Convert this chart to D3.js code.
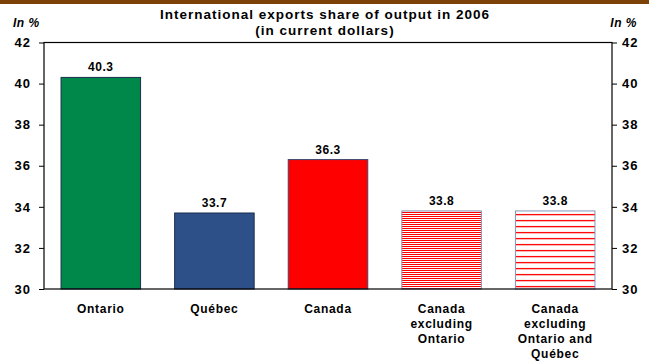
<!DOCTYPE html>
<html>
<head>
<meta charset="utf-8">
<script src="https://cdn.jsdelivr.net/npm/d3@7"></script>
<style>
  html, body { margin: 0; padding: 0; background: #fff; }
  svg { display: block; font-family: "Liberation Sans", Arial, sans-serif; }
</style>
</head>
<body>
<svg id="chart" width="649" height="363"></svg>
<script>
// Chart content
const categories = ["Ontario", "Québec", "Canada", "Canada excluding Ontario", "Canada excluding Ontario and Québec"];
const categoryLines = [["Ontario"], ["Québec"], ["Canada"], ["Canada", "excluding", "Ontario"], ["Canada", "excluding", "Ontario and", "Québec"]];
const values = [40.3, 33.7, 36.3, 33.8, 33.8];
const valueLabels = ["40.3", "33.7", "36.3", "33.8", "33.8"];
const yTicks = [30, 32, 34, 36, 38, 40, 42];
const titleLines = ["International exports share of output in 2006", "(in current dollars)"];
const unitLabel = "In %";

const width = 649, height = 363;
const margin = { left: 44, right: 37, top: 42.5, bottom: 74 };
const svg = d3.select("#chart");

// Fills per bar: solid colours and two horizontal hatch patterns
const fills = ["#00884b", "#2e5088", "#ff0000", "url(#hatchDense)", "url(#hatchWide)"];
const strokes = ["#1c2e4e", "#1c2e4e", "#3a4670", "#8494b4", "#8494b4"];

const x = d3.scaleBand()
  .domain(categories)
  .range([margin.left, width - margin.right])
  .paddingInner(0.3)
  .paddingOuter(0.15);

const y = d3.scaleLinear()
  .domain([30, 42])
  .range([height - margin.bottom, margin.top]);

// Hatch patterns
const defs = svg.append("defs");
const dense = defs.append("pattern")
  .attr("id", "hatchDense").attr("patternUnits", "userSpaceOnUse")
  .attr("width", 8).attr("height", 2);
dense.append("rect").attr("width", 8).attr("height", 2).attr("fill", "#fff");
dense.append("rect").attr("y", 0).attr("width", 8).attr("height", 1).attr("fill", "#ff0000");

const wide = defs.append("pattern")
  .attr("id", "hatchWide").attr("patternUnits", "userSpaceOnUse")
  .attr("width", 8).attr("height", 6)
  .attr("y", y(values[4]) + 3);
wide.append("rect").attr("width", 8).attr("height", 6).attr("fill", "#fff");
wide.append("rect").attr("y", 0).attr("width", 8).attr("height", 1.3).attr("fill", "#ff0000");

// Top brown band
svg.append("rect").attr("x", 0).attr("y", 0).attr("width", width).attr("height", 4).attr("fill", "#7d4208");

// Title
svg.append("text")
  .attr("x", 325).attr("y", 19)
  .attr("text-anchor", "middle")
  .style("font-size", "13.5px").style("font-weight", "bold").style("letter-spacing", "1px")
  .attr("fill", "#000")
  .selectAll("tspan").data(titleLines).join("tspan")
  .attr("x", 325).attr("dy", (d, i) => i === 0 ? 0 : 16)
  .text(d => d);

// Unit labels
svg.append("text").attr("x", 13).attr("y", 27)
  .style("font-size", "12px").style("font-weight", "bold").style("font-style", "italic")
  .style("letter-spacing", "0.5px")
  .text(unitLabel);
svg.append("text").attr("x", 637).attr("y", 27).attr("text-anchor", "end")
  .style("font-size", "12px").style("font-weight", "bold").style("font-style", "italic")
  .style("letter-spacing", "0.5px")
  .text(unitLabel);

// Bars
svg.append("g").selectAll("rect").data(values).join("rect")
  .attr("x", (d, i) => x(categories[i]))
  .attr("y", d => y(d))
  .attr("width", x.bandwidth())
  .attr("height", d => y(30) - y(d))
  .attr("fill", (d, i) => fills[i])
  .attr("stroke", (d, i) => strokes[i])
  .attr("stroke-width", 1);

// Value labels
svg.append("g").selectAll("text").data(values).join("text")
  .attr("x", (d, i) => x(categories[i]) + x.bandwidth() / 2)
  .attr("y", d => y(d) - 6)
  .attr("text-anchor", "middle")
  .style("font-size", "12px").style("font-weight", "bold").style("letter-spacing", "0.5px")
  .text((d, i) => valueLabels[i]);

// Axes
const leftAxis = d3.axisLeft(y).tickValues(yTicks).tickSize(5).tickPadding(8).tickFormat(d3.format("d"));
const rightAxis = d3.axisRight(y).tickValues(yTicks).tickSize(5).tickPadding(5).tickFormat(d3.format("d"));

function styleAxis(g) {
  g.select(".domain").remove();
  g.selectAll(".tick line").attr("stroke", "#000");
  g.selectAll(".tick text")
    .attr("fill", "#000")
    .style("font-size", "13px").style("font-weight", "bold").style("letter-spacing", "1px")
    .style("font-family", "'Liberation Sans', Arial, sans-serif");
}
svg.append("g").attr("transform", `translate(${margin.left},0)`).call(leftAxis).call(styleAxis);
svg.append("g").attr("transform", `translate(${width - margin.right},0)`).call(rightAxis).call(styleAxis);

// Plot frame
svg.append("rect")
  .attr("x", margin.left).attr("y", y(42))
  .attr("width", width - margin.right - margin.left)
  .attr("height", y(30) - y(42))
  .attr("fill", "none").attr("stroke", "#000").attr("stroke-width", 1.2);

// Category labels
const catG = svg.append("g");
catG.selectAll("text").data(categories).join("text")
  .attr("x", d => x(d) + x.bandwidth() / 2)
  .attr("y", 313)
  .attr("text-anchor", "middle")
  .style("font-size", "12px").style("font-weight", "bold").style("letter-spacing", "0.7px")
  .each(function(d, i) {
    d3.select(this).selectAll("tspan").data(categoryLines[i]).join("tspan")
      .attr("x", x(d) + x.bandwidth() / 2)
      .attr("dy", (t, j) => j === 0 ? 0 : 15)
      .text(t => t);
  });
</script>
</body>
</html>
